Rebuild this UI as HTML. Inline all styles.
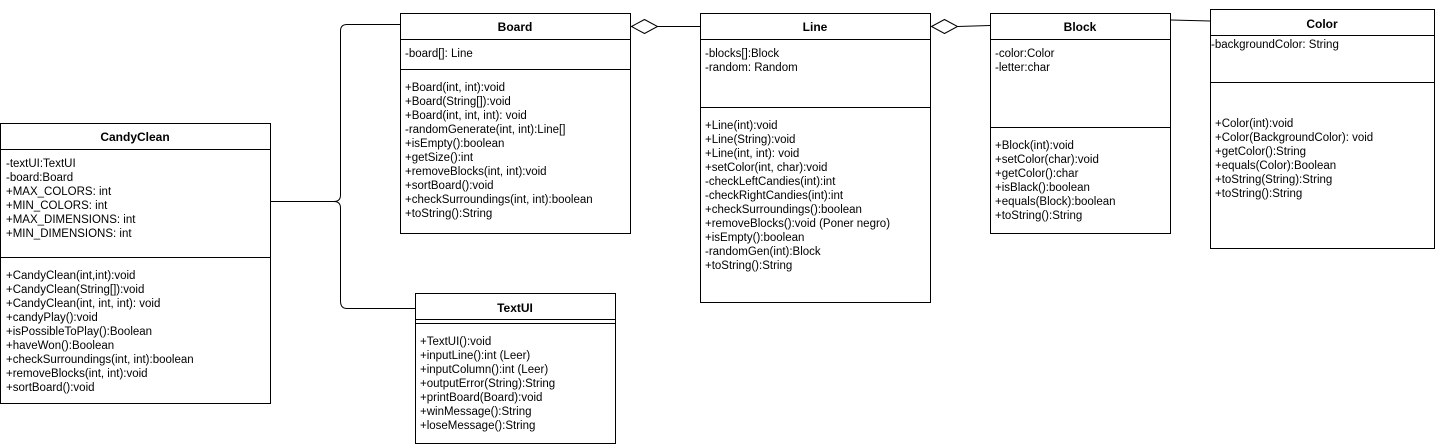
<!DOCTYPE html>
<html><head><meta charset="utf-8"><style>
html,body{margin:0;padding:0;background:#fff;}
svg{display:block;}
text{font-family:"Liberation Sans",Arial,sans-serif;font-size:11.5px;fill:#000;}
.t{font-weight:bold;text-anchor:middle;font-size:12px;}
</style></head><body>
<svg width="1436" height="447" viewBox="0 0 1436 447" xmlns="http://www.w3.org/2000/svg">
<g fill="none" stroke="#000" stroke-width="1">
<!-- CandyClean -->
<rect x="0.5" y="123.5" width="270" height="280"/>
<line x1="0" y1="149.5" x2="271" y2="149.5"/>
<line x1="0" y1="257.5" x2="271" y2="257.5"/>
<!-- Board -->
<rect x="400.5" y="13.5" width="230" height="220"/>
<line x1="400" y1="39.5" x2="631" y2="39.5"/>
<line x1="400" y1="69.5" x2="631" y2="69.5"/>
<!-- TextUI -->
<rect x="415.5" y="293.5" width="200" height="150"/>
<line x1="415" y1="319.5" x2="616" y2="319.5"/>
<line x1="415" y1="323.5" x2="616" y2="323.5"/>
<!-- Line -->
<rect x="700.5" y="13.5" width="230" height="289"/>
<line x1="700" y1="39.5" x2="931" y2="39.5"/>
<line x1="700" y1="107.5" x2="931" y2="107.5"/>
<!-- Block -->
<rect x="990.5" y="13.5" width="180" height="220"/>
<line x1="990" y1="39.5" x2="1171" y2="39.5"/>
<line x1="990" y1="127.5" x2="1171" y2="127.5"/>
<!-- Color -->
<rect x="1210.5" y="9.5" width="224" height="239"/>
<line x1="1210" y1="35.5" x2="1435" y2="35.5"/>
<line x1="1210" y1="82.5" x2="1435" y2="82.5"/>
<!-- bracket connector -->
<path d="M271 201.5 H334 Q340.5 201.5 340.5 195 V31 Q340.5 24.5 347 24.5 H400"/>
<path d="M334 201.5 Q340.5 201.5 340.5 208 V301 Q340.5 308.5 347 308.5 H415"/>
<!-- Board-Line aggregation -->
<path d="M631.5 26.5 L644.5 19.5 L657.5 26.5 L644.5 33.5 Z" fill="#fff"/>
<line x1="657.5" y1="26.5" x2="700" y2="26.5"/>
<!-- Line-Block aggregation -->
<path d="M931.5 26.5 L944.5 19.5 L957.5 26.5 L944.5 33.5 Z" fill="#fff"/>
<line x1="957.5" y1="26.5" x2="990" y2="25.5"/>
<!-- Block-Color -->
<line x1="1171" y1="20" x2="1210" y2="21"/>
</g>
<!-- CandyClean text -->
<text class="t" x="135" y="141">CandyClean</text>
<g>
<text x="6" y="167">-textUI:TextUI</text>
<text x="6" y="181">-board:Board</text>
<text x="6" y="195">+MAX_COLORS: int</text>
<text x="6" y="209">+MIN_COLORS: int</text>
<text x="6" y="223">+MAX_DIMENSIONS: int</text>
<text x="6" y="237">+MIN_DIMENSIONS: int</text>
<text x="6" y="279">+CandyClean(int,int):void</text>
<text x="6" y="293">+CandyClean(String[]):void</text>
<text x="6" y="307">+CandyClean(int, int, int): void</text>
<text x="6" y="321">+candyPlay():void</text>
<text x="6" y="335">+isPossibleToPlay():Boolean</text>
<text x="6" y="349">+haveWon():Boolean</text>
<text x="6" y="363">+checkSurroundings(int, int):boolean</text>
<text x="6" y="377">+removeBlocks(int, int):void</text>
<text x="6" y="391">+sortBoard():void</text>
</g>
<!-- Board text -->
<text class="t" x="515" y="31">Board</text>
<text x="405" y="57">-board[]: Line</text>
<text x="405" y="91">+Board(int, int):void</text>
<text x="405" y="105">+Board(String[]):void</text>
<text x="405" y="119">+Board(int, int, int): void</text>
<text x="405" y="133">-randomGenerate(int, int):Line[]</text>
<text x="405" y="147">+isEmpty():boolean</text>
<text x="405" y="161">+getSize():int</text>
<text x="405" y="175">+removeBlocks(int, int):void</text>
<text x="405" y="189">+sortBoard():void</text>
<text x="405" y="203">+checkSurroundings(int, int):boolean</text>
<text x="405" y="217">+toString():String</text>
<!-- TextUI text -->
<text class="t" x="515" y="312">TextUI</text>
<text x="420" y="345">+TextUI():void</text>
<text x="420" y="359">+inputLine():int (Leer)</text>
<text x="420" y="373">+inputColumn():int (Leer)</text>
<text x="420" y="387">+outputError(String):String</text>
<text x="420" y="401">+printBoard(Board):void</text>
<text x="420" y="415">+winMessage():String</text>
<text x="420" y="429">+loseMessage():String</text>
<!-- Line text -->
<text class="t" x="815" y="31">Line</text>
<text x="705" y="57">-blocks[]:Block</text>
<text x="705" y="71">-random: Random</text>
<text x="705" y="129">+Line(int):void</text>
<text x="705" y="143">+Line(String):void</text>
<text x="705" y="157">+Line(int, int): void</text>
<text x="705" y="171">+setColor(int, char):void</text>
<text x="705" y="185">-checkLeftCandies(int):int</text>
<text x="705" y="199">-checkRightCandies(int):int</text>
<text x="705" y="213">+checkSurroundings():boolean</text>
<text x="705" y="227">+removeBlocks():void (Poner negro)</text>
<text x="705" y="241">+isEmpty():boolean</text>
<text x="705" y="255">-randomGen(int):Block</text>
<text x="705" y="269">+toString():String</text>
<!-- Block text -->
<text class="t" x="1080" y="31">Block</text>
<text x="995" y="57">-color:Color</text>
<text x="995" y="71">-letter:char</text>
<text x="995" y="149">+Block(int):void</text>
<text x="995" y="163">+setColor(char):void</text>
<text x="995" y="177">+getColor():char</text>
<text x="995" y="191">+isBlack():boolean</text>
<text x="995" y="205">+equals(Block):boolean</text>
<text x="995" y="219">+toString():String</text>
<!-- Color text -->
<text class="t" x="1322" y="28">Color</text>
<text x="1211" y="48">-backgroundColor: String</text>
<text x="1215" y="127">+Color(int):void</text>
<text x="1215" y="141">+Color(BackgroundColor): void</text>
<text x="1215" y="155">+getColor():String</text>
<text x="1215" y="169">+equals(Color):Boolean</text>
<text x="1215" y="183">+toString(String):String</text>
<text x="1215" y="197">+toString():String</text>
</svg>
</body></html>
